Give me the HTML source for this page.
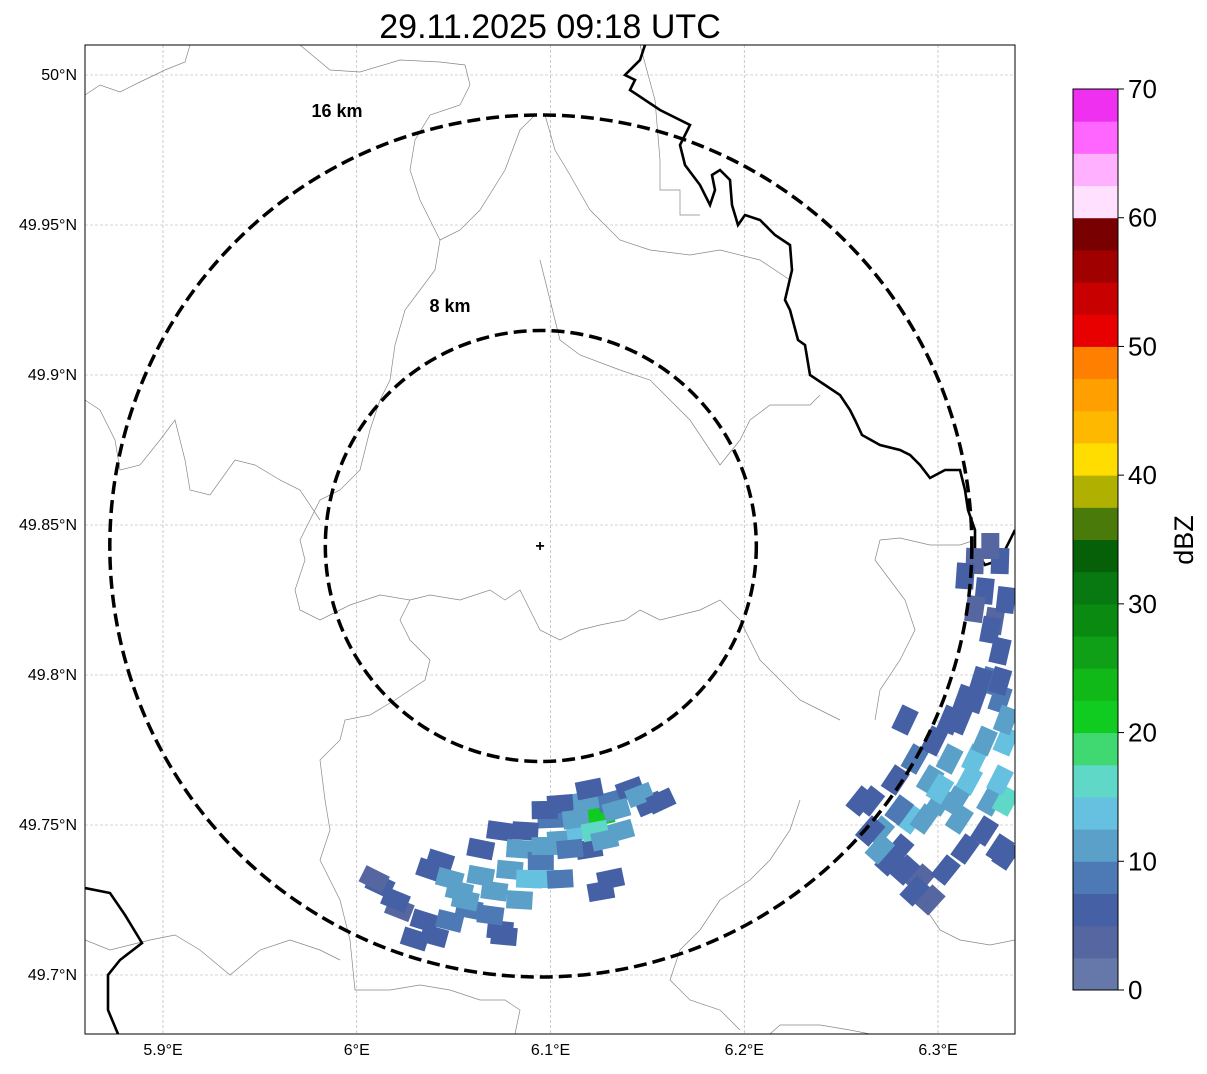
<!DOCTYPE html>
<html><head><meta charset="utf-8"><style>
body{margin:0;background:#fff;width:1207px;height:1069px;overflow:hidden;font-family:"Liberation Sans",sans-serif}
</style></head><body>
<svg id="chart" width="1207" height="1069" xmlns="http://www.w3.org/2000/svg" font-family="Liberation Sans, sans-serif">
<defs><clipPath id="pc"><rect x="85" y="45" width="930" height="989"/></clipPath></defs>
<text x="550" y="38" font-size="34" text-anchor="middle">29.11.2025 09:18 UTC</text>
<g id="grid"></g>
<g clip-path="url(#pc)">
<g id="borders" fill="none" stroke="#888" stroke-width="0.7">
<polyline points="85,95 100,85 120,92 140,82 165,70 185,62 190,45"/>
<polyline points="300,45 330,70 360,72 400,60 440,62 465,65 470,85 460,105 430,115 415,140 410,170 420,200 440,240 435,270 420,290 405,310 395,345 390,380 380,400 370,430 360,470 340,490 320,500 310,520 300,540 305,560 295,590 300,610 320,620 350,605 380,595 410,600 400,620 410,640 430,660 425,680 395,700 370,715 345,720 340,740 320,760 325,800 330,830 320,860 340,900 350,940 355,990 390,990 420,985 450,990 480,1000 505,1000 520,1010 515,1034"/>
<polyline points="85,400 100,410 115,440 120,470 140,465 160,440 175,420 185,460 190,490 210,495 235,460 255,465 280,480 300,490 320,520"/>
<polyline points="410,600 430,595 460,600 490,590 505,600 520,590 540,630 560,640 580,630 600,625 625,620 640,610 660,620 680,615 700,610 720,600 740,620 760,660 780,680 800,700 820,710 840,720"/>
<polyline points="545,115 555,150 570,175 590,210 620,240 650,250 690,255 720,250 760,260 790,280"/>
<polyline points="535,115 520,130 505,170 480,210 460,230 440,240"/>
<polyline points="540,260 550,300 560,340 580,355 620,370 650,380 670,400 690,420 710,450 720,465 740,440 750,420 770,405 810,405 820,395"/>
<polyline points="640,45 655,100 660,160 660,190 680,190 680,215 700,215"/>
<polyline points="880,540 900,538 930,545 960,545 975,540"/>
<polyline points="880,540 875,560 890,580 905,600 915,630 900,660 880,690 875,720"/>
<polyline points="800,800 790,830 770,860 750,880 720,900 700,930 680,950 670,980 690,1000 720,1010 740,1030"/>
<polyline points="85,940 110,950 130,945 150,940 175,935 200,950 230,975 260,950 290,940 320,950 340,960"/>
<polyline points="770,1034 780,1025 820,1025 850,1030 870,1034"/>
<polyline points="920,900 940,930 960,940 990,945 1015,940"/>
</g>
<g fill="none" stroke="#000" stroke-width="2.6">
<polyline points="645,45 640,60 625,75 635,80 630,90 660,110 690,125 680,145 685,165 700,185 710,205 715,190 712,175 720,170 730,180 732,205 738,225 745,215 760,220 775,235 790,245 792,270 785,300 790,310 798,340 805,345 810,375 825,385 840,395 850,410 855,420 862,435 880,445 900,450 910,455 920,465 930,478 945,470 960,470 965,490 968,510 975,530 975,550 985,565 1000,560 1015,530"/>
<polyline points="85,888 110,893 125,915 142,943 120,960 108,975 108,1010 118,1034"/>
</g>
<g id="cells"></g>
</g>
<rect x="85" y="45" width="930" height="989" fill="none" stroke="#000" stroke-width="1"/>
<g id="rings" fill="none" stroke="#000" stroke-width="3.5" stroke-dasharray="13,6"></g>
<text x="337" y="117" font-size="18" font-weight="bold" text-anchor="middle">16 km</text>
<text x="450" y="312" font-size="18" font-weight="bold" text-anchor="middle">8 km</text>
<text x="540" y="551" font-size="16" font-weight="bold" text-anchor="middle">+</text>
<g id="axes" font-size="16"></g>
<g id="cbar"></g>
<text font-size="27" text-anchor="middle" transform="translate(1193,540) rotate(-90)">dBZ</text>
</svg>
<script>
const NS="http://www.w3.org/2000/svg";
const lonTicks=[5.9,6.0,6.1,6.2,6.3];
const lonLabels=["5.9°E","6°E","6.1°E","6.2°E","6.3°E"];
const latTicks=[50.0,49.95,49.9,49.85,49.8,49.75,49.7];
const latLabels=["50°N","49.95°N","49.9°N","49.85°N","49.8°N","49.75°N","49.7°N"];
const cbTicks=[0,10,20,30,40,50,60,70];
const cbColors=["#6677aa","#5566a0","#4660a5","#4d7ab5","#5aa0c8","#66c0e0","#60d8c8","#40d870","#10cc20","#10b818","#10a018","#0a8a10","#087810","#056008","#4a7a0a","#b0b000","#ffdd00","#ffb800","#ff9f00","#ff8000","#e80000","#c80000","#a00000","#780000","#ffe0ff","#ffb0ff","#ff66ff","#f030f0"];
const radarLon=6.095, radarLat=49.843;
const ringKm=[8,16];
const cellLon=[6.012,6.022,6.030,6.043,6.053,6.064,6.074,6.084,6.095,6.074,6.084,6.100,6.105,6.115,6.126,6.131,6.141,6.151,6.120,6.058,6.097,6.118,6.136,
6.009,6.020,6.035,6.040,6.038,6.048,6.056,6.069,6.076,6.064,6.079,6.089,6.071,6.087,6.097,6.110,6.105,6.113,6.123,6.128,6.134,6.146,6.157,6.120,6.097,6.105,6.126,6.131,6.048,
6.265,6.270,6.280,6.291,6.283,6.296,6.306,6.311,6.319,6.327,6.332,6.329,6.324,6.332,6.319,6.335,6.311,6.301,6.327,6.332,6.286,6.319,6.335,
6.260,6.265,6.275,6.288,6.296,6.304,6.314,6.324,6.335,6.278,6.288,6.298,6.306,6.314,6.322,6.332,6.335,6.324,6.316,6.309,6.293,6.280,6.332,6.327,6.335,6.319,6.314,6.327,6.332,6.301,6.270,6.283];
const cellLat=[49.730,49.722,49.712,49.738,49.728,49.733,49.748,49.742,49.738,49.715,49.725,49.752,49.745,49.748,49.753,49.758,49.762,49.757,49.742,49.722,49.732,49.758,49.748,
49.732,49.725,49.718,49.713,49.735,49.732,49.725,49.720,49.713,49.742,49.735,49.732,49.728,49.748,49.743,49.742,49.757,49.752,49.748,49.745,49.755,49.760,49.758,49.762,49.755,49.732,49.728,49.732,49.718,
49.758,49.748,49.742,49.732,49.785,49.765,49.772,49.785,49.792,49.798,49.808,49.818,49.828,49.838,49.838,49.778,49.752,49.758,49.758,49.742,49.752,49.772,49.758,
49.758,49.748,49.738,49.728,49.725,49.735,49.742,49.748,49.740,49.765,49.772,49.778,49.785,49.792,49.798,49.792,49.785,49.778,49.765,49.758,49.752,49.755,49.765,49.815,49.825,49.822,49.833,49.843,49.798,49.762,49.742,49.735];
const cellVal=[5,3,5,6,10,12,5,12,8,6,10,8,12,14,20,8,5,6,7,9,13,10,10,
4,6,5,6,5,10,12,8,6,7,12,13,12,6,12,8,6,12,15,10,12,10,6,5,6,8,5,5,8,
5,10,7,4,5,12,10,6,5,9,5,4,6,5,4,13,12,10,12,6,13,14,17,
5,7,6,5,4,6,7,5,6,5,8,6,5,6,7,8,10,12,13,11,10,9,14,5,6,4,5,4,7,13,10,7];
const x=lon=>163+(lon-5.9)*1937.5;
const y=lat=>75+(50-lat)*3000;
const cbY=v=>990-v*(901/70);
function mk(t,a,p){const e=document.createElementNS(NS,t);for(const k in a)e.setAttribute(k,a[k]);(p||document.getElementById("chart")).appendChild(e);return e;}
const grid=document.getElementById("grid"),axes=document.getElementById("axes");
lonTicks.forEach((v,i)=>{
 const l=mk("line",{x1:x(v),x2:x(v),y1:45,y2:1034,stroke:"#aaa","stroke-width":0.6,"stroke-dasharray":"3,2"},grid);
 
 
 const t=mk("text",{x:x(v),y:1055,"text-anchor":"middle"},axes);t.textContent=lonLabels[i];
 
 
});
latTicks.forEach((v,i)=>{
 const l=mk("line",{x1:85,x2:1015,y1:y(v),y2:y(v),stroke:"#aaa","stroke-width":0.6,"stroke-dasharray":"3,2"},grid);
 
 
 const t=mk("text",{x:77,y:y(v)+5,"text-anchor":"end"},axes);t.textContent=latLabels[i];
 
 
});
const pxPerKm=431/16;
const rings=document.getElementById("rings");
ringKm.forEach(k=>{
 const c=mk("circle",{cx:x(radarLon),cy:y(radarLat),r:k*pxPerKm},rings);
 
 
});
function colorFor(v){return cbColors[Math.max(0,Math.min(27,Math.floor(v/2.5)))];}
const cells=document.getElementById("cells");
cellLon.forEach((lo,i)=>{
 const cx=x(lo),cy=y(cellLat[i]);
 const ang=Math.atan2(cy-y(radarLat),cx-x(radarLon))*180/Math.PI;
 const r=mk("rect",{x:cx-13,y:cy-9,width:26,height:18,fill:colorFor(cellVal[i]),transform:`rotate(${ang+90},${cx},${cy})`},cells);
 
 
});
const cb=document.getElementById("cbar");
cbColors.forEach((c,i)=>{
 const r=mk("rect",{x:1073,y:cbY((i+1)*2.5),width:45,height:cbY(i*2.5)-cbY((i+1)*2.5)+0.5,fill:c},cb);
 
 
});
mk("rect",{x:1073,y:89,width:45,height:901,fill:"none",stroke:"#000","stroke-width":1},cb);
cbTicks.forEach(v=>{
 mk("line",{x1:1118,x2:1124,y1:cbY(v),y2:cbY(v),stroke:"#000"},cb);
 const t=mk("text",{x:1128,y:cbY(v)+9,"font-size":26},cb);t.textContent=v;
 
 
});
</script>
</body></html>
